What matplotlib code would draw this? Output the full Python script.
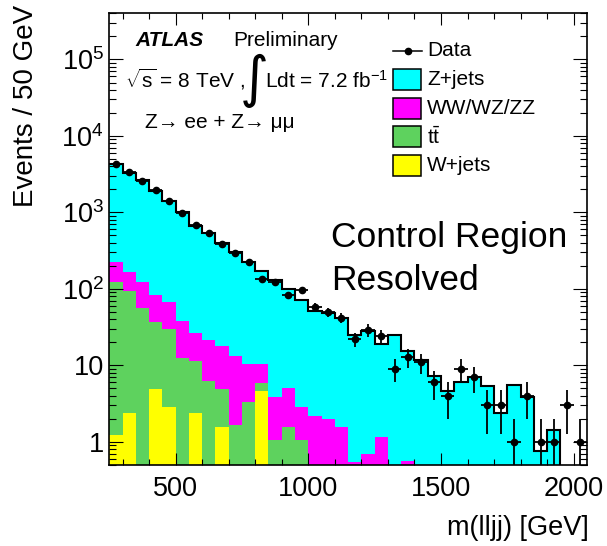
import numpy as np
import matplotlib
matplotlib.use("Agg")
import matplotlib.pyplot as plt
from matplotlib.patches import Rectangle
from matplotlib.lines import Line2D
from matplotlib.ticker import FixedLocator, MultipleLocator, LogLocator, NullFormatter

plt.rcParams["font.family"] = ["Liberation Sans", "DejaVu Sans"]
plt.rcParams["mathtext.fontset"] = "custom"
plt.rcParams["mathtext.rm"] = "Liberation Sans"
plt.rcParams["mathtext.it"] = "Liberation Sans:italic"
plt.rcParams["mathtext.bf"] = "Liberation Sans:bold"

# --------------------------------------------------
# DATA  (50 GeV bins, 250 -> 2050 GeV)
# --------------------------------------------------
bin_edges = np.arange(250, 2051, 50)

data_counts = [4300, 3380, 2600, 1970, 1430, 990, 680, 538, 385, 296,
               228, 137, 125, 83, 96, 58, 50, 42, 22, 29,
               24, 9, 13, 11, 6, 4, 9, 7, 3, 3,
               1, 4, 1, 1, 3, 1]

w_jets = [1.22, 2.36, 0, 4.85, 2.85, 0, 2.36, 0, 1.56, 0,
          0, 4.7, 0, 0, 0, 0, 0, 0, 0, 0,
          0, 0, 0, 0, 0, 0, 0, 0, 0, 0,
          0, 0, 0, 0, 0, 0]

ttbar = [121, 92.6, 56.5, 31.8, 27.2, 12.6, 9.2, 6.2, 3.3, 1.69,
         3.3, 1.2, 1.05, 1.56, 1.05, 0, 0, 0, 0, 0,
         0, 0, 0, 0, 0, 0, 0, 0, 0, 0,
         0, 0, 0, 0, 0, 0]

diboson = [103, 72, 66.5, 46, 37.7, 25.9, 15.4, 15.6, 12.9, 11.5,
           7.0, 4.7, 2.8, 3.44, 1.85, 2.2, 2.0, 1.56, 0.545, 0.69,
           1.16, 0, 0.57, 0, 0, 0, 0, 0, 0, 0,
           0, 0, 0, 0, 0, 0]

z_jets = [4100, 3163, 2497, 1798, 1325, 961, 643, 516, 382, 287,
          212, 159, 128, 95, 69.6, 49.8, 46.6, 40.4, 24.8, 27.9,
          18.1, 25, 15.1, 11.9, 7.3, 4.6, 6.0, 7.0, 5.35, 2.36,
          5.5, 3.9, 0.77, 1.42, 0, 0]

C_Z = "#00ffff"
C_VV = "#ff00ff"
C_TT = "#5ed25e"
C_W = "#ffff00"

# --------------------------------------------------
# STACK
# --------------------------------------------------
floor = 1e-3
stack = np.cumsum(np.array([w_jets, ttbar, diboson, z_jets]), axis=0)
centers = 0.5 * (bin_edges[:-1] + bin_edges[1:])

fig = plt.figure(figsize=(6.07, 5.46), dpi=100)
ax = fig.add_axes([0.18, 0.1484, 0.787, 0.827])
ax.set_yscale("log")

for level, col in zip([3, 2, 1, 0], [C_Z, C_VV, C_TT, C_W]):
    vals = np.maximum(stack[level], floor)
    ax.stairs(vals, bin_edges, baseline=floor, fill=True, color=col, lw=0)

ax.stairs(np.maximum(stack[3], floor), bin_edges, baseline=None,
          color="black", lw=1.5)

d = np.array(data_counts, dtype=float)
err = np.sqrt(d)
ax.errorbar(centers, d, yerr=[np.minimum(err, d - floor), err], xerr=25,
            fmt="o", color="black", ms=4.5, elinewidth=1.3, capsize=0)

# --------------------------------------------------
# AXES
# --------------------------------------------------
ax.set_xlim(250, 2050)
ax.set_ylim(0.5, 4e5)

ax.xaxis.set_major_locator(FixedLocator([500, 1000, 1500, 2000]))
ax.xaxis.set_minor_locator(MultipleLocator(100))
ax.set_xticklabels(["500", "1000", "1500", "2000"])

ax.yaxis.set_major_locator(FixedLocator([1, 10, 100, 1e3, 1e4, 1e5]))
ax.yaxis.set_minor_locator(LogLocator(base=10, subs=np.arange(2, 10)))
ax.yaxis.set_minor_formatter(NullFormatter())
ax.set_yticklabels(["1", "10", "$10^{2}$", "$10^{3}$", "$10^{4}$", "$10^{5}$"])

ax.tick_params(which="both", direction="in", top=True, right=True,
               labelsize=19.5, width=0.8)
ax.tick_params(axis="x", which="major", length=8.5, pad=8)
ax.tick_params(axis="x", which="minor", length=4)
ax.tick_params(axis="y", which="major", length=10, pad=4)
ax.tick_params(axis="y", which="minor", length=5)
for s in ax.spines.values():
    s.set_linewidth(1.2)

def fx(x):
    return x / 607.0

def fy(y):
    return 1.0 - y / 546.0

fig.text(fx(26), fy(5), "Events / 50 GeV", rotation=90, ha="center",
         va="top", size=20)
fig.text(fx(589), fy(535), "m(lljj) [GeV]", ha="right", va="baseline",
         size=19.5)

# --------------------------------------------------
# LABELS
# --------------------------------------------------
fig.text(fx(135), fy(46), "ATLAS", weight="bold", style="italic", size=15,
         va="baseline")
fig.text(fx(233), fy(46), "Preliminary", size=15, va="baseline")
fig.text(fx(125), fy(88), r"$\sqrt{\mathrm{s}}$ = 8 TeV ,", size=15,
         va="baseline")
fig.text(fx(254), fy(81), "\u222b", size=40, ha="center", va="center",
         family="DejaVu Sans")
fig.text(fx(265), fy(88), "Ldt = 7.2 fb$^{-1}$", size=15, va="baseline")
fig.text(fx(145), fy(128), "Z\u2192 ee + Z\u2192 \u03bc\u03bc", size=15,
         va="baseline")

fig.text(fx(331), fy(247), "Control Region", size=25.5, va="baseline")
fig.text(fx(331), fy(290), "Resolved", size=25.5, va="baseline")

# legend
fig.add_artist(Line2D([fx(393), fx(422)], [fy(51), fy(51)], color="black",
                      lw=1.1, transform=fig.transFigure))
fig.add_artist(Line2D([fx(407.5)], [fy(51)], marker="o", ms=4.5,
                      color="black", transform=fig.transFigure))
fig.text(fx(427), fy(51), "Data", size=15, va="center")

entries = [(C_Z, "Z+jets"), (C_VV, "WW/WZ/ZZ"),
           (C_TT, r"$\mathrm{t\bar{t}}$"), (C_W, "W+jets")]
for i, (col, lab) in enumerate(entries):
    yc = 79.5 + 28.7 * i
    fig.add_artist(Rectangle((fx(393), fy(yc + 10.5)), 28 / 607.0, 21 / 546.0,
                             facecolor=col, edgecolor="black", lw=1.1,
                             transform=fig.transFigure))
    fig.text(fx(427), fy(yc), lab, size=15, va="center")

fig.savefig("out.png", dpi=100)
